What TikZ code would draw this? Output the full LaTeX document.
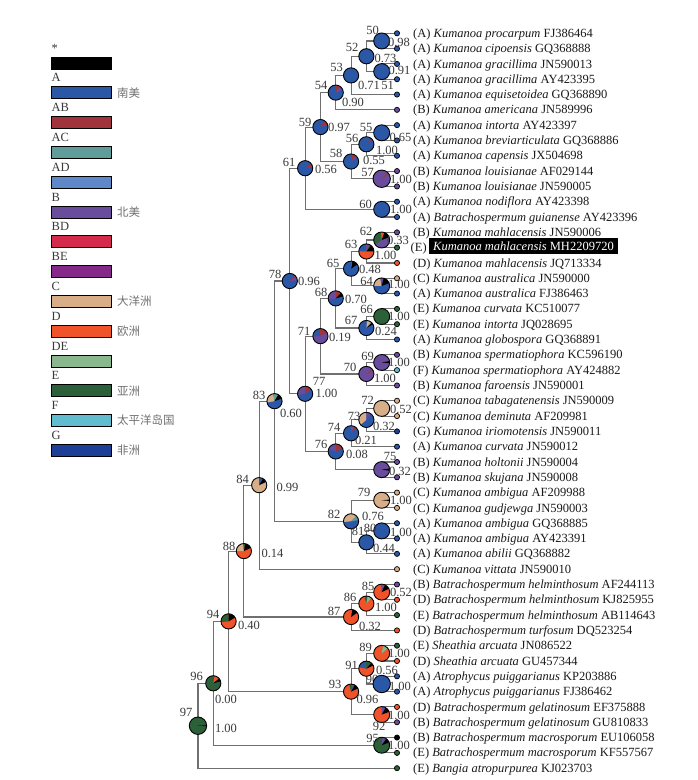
\documentclass[tikz,border=0pt]{standalone}
\usepackage{fontspec}
\setmainfont{Liberation Serif}
\newfontfamily\cjk{Noto Sans CJK SC}
\usetikzlibrary{calc}
\definecolor{cS}{HTML}{000000}
\definecolor{cA}{HTML}{2B57A7}
\definecolor{cAB}{HTML}{A0343A}
\definecolor{cAC}{HTML}{5F9C9A}
\definecolor{cAD}{HTML}{5F88C8}
\definecolor{cB}{HTML}{6A4C9C}
\definecolor{cBD}{HTML}{D42A4C}
\definecolor{cBE}{HTML}{86288A}
\definecolor{cC}{HTML}{D8AE88}
\definecolor{cD}{HTML}{F0522A}
\definecolor{cDE}{HTML}{8AB88E}
\definecolor{cE}{HTML}{2C6038}
\definecolor{cF}{HTML}{62BCD0}
\definecolor{cG}{HTML}{1E3F98}
\definecolor{brgray}{HTML}{707070}
\definecolor{txt}{HTML}{1A1A1A}
\definecolor{nodetxt}{HTML}{3A3A3A}
\definecolor{cjkgray}{HTML}{707070}
\newcommand\pr{7.5pt}
\newcommand\pbase[2]{\fill[#2] (#1) circle[radius=\pr];}
\newcommand\pw[4]{\fill[#4] (#1) -- ++(#2:\pr) arc[start angle=#2, end angle=#3, radius=\pr] -- cycle;}
\newcommand\pout[1]{\draw[pieline] (#1) circle[radius=\pr];}
\newcommand\setr[1]{\renewcommand\pr{#1}}
\begin{document}
\begin{tikzpicture}[x=1pt,y=-1pt, font=\fontsize{12.5}{15}\selectfont,
  branch/.style={draw=brgray, line width=1.1pt},
  tipdot/.style={draw=black, line width=0.7pt},
  pieline/.style={draw=black, line width=0.9pt},
  tiplab/.style={anchor=base west, inner sep=0pt, text=txt},
  nlab/.style={anchor=base, inner sep=0pt, text=nodetxt},
  leglab/.style={anchor=base west, inner sep=0pt, text=nodetxt},
  cjklab/.style={anchor=west, inner sep=0pt, text=cjkgray, font=\cjk\fontsize{11.5}{12}\selectfont},
  legbar/.style={draw=black, line width=1pt}]
\fill[white] (0,0) rectangle (697,780);
\useasboundingbox (0,0) rectangle (697,780);

% ---------- legend ----------
\foreach \k/\lab/\col/\zh in {0/*/cS/,1/A/cA/南美,2/AB/cAB/,3/AC/cAC/,4/AD/cAD/,5/B/cB/北美,6/BD/cBD/,7/BE/cBE/,8/C/cC/大洋洲,9/D/cD/欧洲,10/DE/cDE/,11/E/cE/亚洲,12/F/cF/太平洋岛国,13/G/cG/非洲}{
  \pgfmathsetmacro\bt{57+29.8*\k}
  \node[leglab] (lg\k) at (51.5,{\bt-5}) {\lab};
  \filldraw[legbar, fill=\col] (51,\bt) rectangle (111,{\bt+12});
  \node[cjklab] (zh\k) at (117,{\bt+6}) {\zh};
}

% ---------- tips ----------
\foreach \i in {0,...,48}{\coordinate (t\i) at (397,{33.3+15.31*\i});}

% ---------- internal nodes ----------
\coordinate (n50) at (381.69,40.955);
\coordinate (n51) at (381.69,71.575);
\coordinate (n52) at (366.38,56.265);
\coordinate (n53) at (351.07,75.40);
\coordinate (n54) at (335.76,92.63);
\coordinate (n55) at (381.69,132.815);
\coordinate (n56) at (366.38,144.30);
\coordinate (n57) at (381.69,178.745);
\coordinate (n58) at (351.07,161.52);
\coordinate (n59) at (320.45,127.07);
\coordinate (n60) at (381.69,209.365);
\coordinate (n61) at (305.14,168.22);
\coordinate (n62) at (381.69,239.985);
\coordinate (n63) at (366.38,251.47);
\coordinate (n64) at (381.69,285.915);
\coordinate (n65) at (351.07,268.69);
\coordinate (n66) at (381.69,316.535);
\coordinate (n67) at (366.38,328.02);
\coordinate (n68) at (335.76,298.355);
\coordinate (n69) at (381.69,362.465);
\coordinate (n70) at (366.38,373.95);
\coordinate (n71) at (320.45,336.15);
\coordinate (n72) at (381.69,408.395);
\coordinate (n73) at (366.38,419.88);
\coordinate (n74) at (351.07,433.275);
\coordinate (n75) at (381.69,469.635);
\coordinate (n76) at (335.76,451.455);
\coordinate (n77) at (305.14,393.80);
\coordinate (n78) at (289.83,281.01);
\coordinate (n79) at (381.69,500.255);
\coordinate (n80) at (381.69,530.875);
\coordinate (n81) at (366.38,542.36);
\coordinate (n82) at (351.07,521.31);
\coordinate (n83) at (274.52,401.16);
\coordinate (n84) at (259.21,485.155);
\coordinate (n85) at (381.69,592.115);
\coordinate (n86) at (366.38,603.60);
\coordinate (n87) at (351.07,617.00);
\coordinate (n88) at (243.90,551.08);
\coordinate (n89) at (381.69,653.355);
\coordinate (n90) at (381.69,683.975);
\coordinate (n91) at (366.38,668.665);
\coordinate (n92) at (381.69,714.595);
\coordinate (n93) at (351.07,691.63);
\coordinate (n94) at (228.59,621.355);
\coordinate (n95) at (381.69,745.215);
\coordinate (n96) at (213.28,683.285);
\coordinate (n97) at (197.97,725.73);

% ---------- branches ----------
\foreach \p/\a/\b in {n50/t0/t1,n51/t2/t3,n52/n50/n51,n53/n52/t4,n54/n53/t5,n55/t6/t7,n56/n55/t8,n57/t9/t10,n58/n56/n57,n59/n54/n58,n60/t11/t12,n61/n59/n60,n62/t13/t14,n63/n62/t15,n64/t16/t17,n65/n63/n64,n66/t18/t19,n67/n66/t20,n68/n65/n67,n69/t21/t22,n70/n69/t23,n71/n68/n70,n72/t24/t25,n73/n72/t26,n74/n73/t27,n75/t28/t29,n76/n74/n75,n77/n71/n76,n78/n61/n77,n79/t30/t31,n80/t32/t33,n81/n80/t34,n82/n79/n81,n83/n78/n82,n84/n83/t35,n85/t36/t37,n86/n85/t38,n87/n86/t39,n88/n84/n87,n89/t40/t41,n90/t42/t43,n91/n89/n90,n92/t44/t45,n93/n91/n92,n94/n88/n93,n95/t46/t47,n96/n94/n95,n97/n96/t48}{
  \draw[branch] (\a) -| (\p) |- (\b);
}

% ---------- tip dots and labels ----------
\foreach \i/\r/\sp/\acc/\c in {0/A/Kumanoa procarpum/FJ386464/cA,1/A/Kumanoa cipoensis/GQ368888/cA,2/A/Kumanoa gracillima/JN590013/cA,3/A/Kumanoa gracillima/AY423395/cA,4/A/Kumanoa equisetoidea/GQ368890/cA,5/B/Kumanoa americana/JN589996/cB,6/A/Kumanoa intorta/AY423397/cA,7/A/Kumanoa breviarticulata/GQ368886/cA,8/A/Kumanoa capensis/JX504698/cA,9/B/Kumanoa louisianae/AF029144/cB,10/B/Kumanoa louisianae/JN590005/cB,11/A/Kumanoa nodiflora/AY423398/cA,12/A/Batrachospermum guianense/AY423396/cA,13/B/Kumanoa mahlacensis/JN590006/cB,15/D/Kumanoa mahlacensis/JQ713334/cD,16/C/Kumanoa australica/JN590000/cC,17/A/Kumanoa australica/FJ386463/cA,18/E/Kumanoa curvata/KC510077/cE,19/E/Kumanoa intorta/JQ028695/cE,20/A/Kumanoa globospora/GQ368891/cA,21/B/Kumanoa spermatiophora/KC596190/cB,22/F/Kumanoa spermatiophora/AY424882/cF,23/B/Kumanoa faroensis/JN590001/cB,24/C/Kumanoa tabagatenensis/JN590009/cC,25/C/Kumanoa deminuta/AF209981/cC,26/G/Kumanoa iriomotensis/JN590011/cG,27/A/Kumanoa curvata/JN590012/cA,28/B/Kumanoa holtonii/JN590004/cB,29/B/Kumanoa skujana/JN590008/cB,30/C/Kumanoa ambigua/AF209988/cC,31/C/Kumanoa gudjewga/JN590003/cC,32/A/Kumanoa ambigua/GQ368885/cA,33/A/Kumanoa ambigua/AY423391/cA,34/A/Kumanoa abilii/GQ368882/cA,35/C/Kumanoa vittata/JN590010/cC,36/B/Batrachospermum helminthosum/AF244113/cB,37/D/Batrachospermum helminthosum/KJ825955/cD,38/E/Batrachospermum helminthosum/AB114643/cE,39/D/Batrachospermum turfosum/DQ523254/cD,40/E/Sheathia arcuata/JN086522/cE,41/D/Sheathia arcuata/GU457344/cD,42/A/Atrophycus puiggarianus/KP203886/cA,43/A/Atrophycus puiggarianus/FJ386462/cA,44/D/Batrachospermum gelatinosum/EF375888/cD,45/B/Batrachospermum gelatinosum/GU810833/cB,46/B/Batrachospermum macrosporum/EU106058/cS,47/E/Batrachospermum macrosporum/KF557567/cE,48/E/Bangia atropurpurea/KJ023703/cE}{
  \filldraw[tipdot, fill=\c] (t\i) circle[radius=2.6pt];
  \node[tiplab] (l\i) at ($(t\i)+(16,4.1)$) {(\r) \textit{\sp} \acc};
}
\filldraw[tipdot, fill=cE] (t14) circle[radius=2.6pt];
\node[tiplab] (l14a) at (410.5,251.5) {(E)};
\node[anchor=base west, fill=black, text=white, inner xsep=4pt, inner ysep=0pt, text height=12.8pt, text depth=3pt] (l14) at (429,250.5) {\textit{Kumanoa mahlacensis} MH2209720};

% label partly under pie 90
\node[nlab] (N90) at (372,{679+4.2}) {90};

% ---------- pies (cherries slightly larger) ----------
\setr{8pt}
\pbase{n50}{cA}\pout{n50}
\pbase{n51}{cA}\pout{n51}
\pbase{n55}{cA}\pout{n55}
\pbase{n60}{cA}\pout{n60}
\pbase{n62}{cB}\pw{n62}{95}{215}{cE}\pw{n62}{70}{95}{cD}\pw{n62}{20}{70}{cS}\pout{n62}
\pbase{n64}{cA}\pw{n64}{100}{180}{cC}\pw{n64}{80}{100}{cB}\pw{n64}{20}{75}{cS}\pout{n64}
\pbase{n66}{cE}\pout{n66}
\pbase{n69}{cB}\pw{n69}{-5}{10}{cS}\pout{n69}
\pbase{n72}{cC}\pout{n72}
\pbase{n75}{cB}\pw{n75}{-8}{8}{cS}\pout{n75}
\pbase{n79}{cC}\pw{n79}{-5}{5}{cS}\pout{n79}
\pbase{n80}{cA}\pout{n80}
\pbase{n85}{cD}\pw{n85}{65}{95}{cB}\pw{n85}{25}{65}{cS}\pout{n85}
\pbase{n89}{cD}\pw{n89}{40}{80}{cDE}\pout{n89}
\pbase{n92}{cD}\pw{n92}{60}{90}{cB}\pw{n92}{20}{60}{cS}\pout{n92}
\pbase{n95}{cE}\pw{n95}{55}{85}{cB}\pw{n95}{20}{55}{cS}\pout{n95}
\setr{8.7pt}
\pbase{n57}{cB}\pw{n57}{38}{45}{cAB}\pout{n57}
\pbase{n90}{cA}\pout{n90}
\pbase{n97}{cE}\pw{n97}{-3}{3}{cS}\pout{n97}
\setr{7.6pt}
\pbase{n52}{cA}\pout{n52}
\pbase{n53}{cA}\pout{n53}
\pbase{n54}{cA}\pw{n54}{55}{90}{cAB}\pw{n54}{25}{55}{cB}\pout{n54}
\pbase{n56}{cA}\pw{n56}{40}{45}{cAB}\pout{n56}
\pbase{n58}{cA}\pw{n58}{50}{90}{cAB}\pw{n58}{35}{50}{cB}\pout{n58}
\pbase{n59}{cA}\pw{n59}{20}{60}{cAB}\pout{n59}
\pbase{n61}{cA}\pw{n61}{5}{40}{cAB}\pout{n61}
\pbase{n63}{cD}\pw{n63}{95}{180}{cA}\pw{n63}{65}{95}{cB}\pw{n63}{52}{65}{cE}\pw{n63}{0}{52}{cS}\pout{n63}
\pbase{n65}{cA}\pw{n65}{35}{80}{cS}\pw{n65}{80}{90}{cB}\pout{n65}
\pbase{n67}{cA}\pw{n67}{55}{85}{cC}\pw{n67}{45}{55}{cDE}\pw{n67}{30}{45}{cS}\pout{n67}
\pbase{n68}{cA}\pw{n68}{90}{190}{cB}\pw{n68}{45}{90}{cAB}\pw{n68}{15}{45}{cS}\pout{n68}
\pbase{n70}{cB}\pw{n70}{20}{35}{cAB}\pout{n70}
\pbase{n71}{cB}\pw{n71}{95}{180}{cA}\pw{n71}{30}{95}{cAB}\pout{n71}
\pbase{n73}{cA}\pw{n73}{90}{220}{cC}\pw{n73}{55}{90}{cB}\pout{n73}
\pbase{n74}{cA}\pw{n74}{65}{90}{cB}\pw{n74}{45}{65}{cAB}\pout{n74}
\pbase{n76}{cA}\pw{n76}{90}{160}{cB}\pw{n76}{25}{90}{cAB}\pout{n76}
\pbase{n77}{cA}\pw{n77}{90}{190}{cB}\pw{n77}{40}{90}{cAB}\pout{n77}
\pbase{n78}{cA}\pw{n78}{5}{40}{cB}\pw{n78}{40}{50}{cAB}\pout{n78}
\pbase{n81}{cA}\pout{n81}
\pbase{n82}{cA}\pw{n82}{45}{185}{cC}\pw{n82}{10}{45}{cAC}\pout{n82}
\pbase{n83}{cA}\pw{n83}{100}{190}{cC}\pw{n83}{60}{100}{cAC}\pw{n83}{20}{60}{cS}\pout{n83}
\pbase{n84}{cC}\pw{n84}{60}{90}{cA}\pw{n84}{25}{60}{cS}\pout{n84}
\pbase{n86}{cD}\pw{n86}{80}{105}{cE}\pw{n86}{50}{80}{cDE}\pout{n86}
\pbase{n87}{cD}\pw{n87}{35}{80}{cS}\pout{n87}
\pbase{n88}{cD}\pw{n88}{95}{180}{cC}\pw{n88}{80}{95}{cE}\pw{n88}{25}{80}{cS}\pout{n88}
\pbase{n91}{cD}\pw{n91}{95}{170}{cA}\pw{n91}{50}{95}{cE}\pw{n91}{25}{50}{cS}\pout{n91}
\pbase{n93}{cD}\pw{n93}{75}{105}{cE}\pw{n93}{60}{75}{cA}\pw{n93}{25}{60}{cS}\pout{n93}
\pbase{n94}{cD}\pw{n94}{90}{185}{cE}\pw{n94}{30}{90}{cS}\pout{n94}
\pbase{n96}{cE}\pw{n96}{40}{80}{cD}\pw{n96}{15}{40}{cS}\pout{n96}

% ---------- node labels ----------
\foreach \nm/\nx/\ny/\vx/\vy/\v in {50/372.5/30.5/399/42/0.98,51/387.5/85/399.5/70.5/0.91,52/352/47.5/385.5/58/0.73,53/336.5/67.5/369/85/0.71,54/321/85/353/102/0.90,55/366/127.5/400.5/137/0.65,56/352/138.5/387/150/1.00,57/367.5/172.5/401/179/1.00,58/336/153.5/374/160.5/0.55,59/305/122.5/339/127.5/0.97,60/365.5/204/401/209.5/1.00,61/289/162.5/326/169.5/0.56,62/366/231.5/398/240/0.33,63/351/244.5/385.5/255/1.00,64/366.5/281.5/399/284.5/1.00,65/333/263/370/269.5/0.48,66/366.5/309.5/399/316/1.00,67/351/320.5/386/331/0.24,68/321/292.5/356/299/0.70,69/367.5/356/399/362.5/1.00,70/350/367.5/385/378.5/1.00,71/304/331/340/337.5/0.19,72/367.5/400.5/401/409.5/0.52,73/354/416/384/426/0.32,74/334/427.5/366/440/0.21,75/390/456/400/471/0.32,76/321/444/357/454.5/0.08,77/319/381/326.5/393/1.00,78/275/274/309/281/0.96,79/364/492.5/401/500.5/1.00,80/370/528.5/401/532.5/1.00,81/358/531/384/548.5/0.44,82/334/514.5/373/516.5/0.76,83/259/395/291/413/0.60,84/242.5/479/287.5/487/0.99,85/368/586.5/401/592.5/0.52,86/350/597/386/607.5/1.00,87/334/611.5/370/626/0.32,88/229/546/272.5/553/0.14,89/365.5/647.5/399/653.5/1.00,91/351.5/665.5/387/670.5/0.56,92/379/726/399/715.5/1.00,93/335/684.5/367.5/699/0.96,94/213/614/249/625/0.40,95/372.5/738/399/745.5/1.00,96/196.5/676/226/699/0.00,97/186/712.5/226/728/1.00}{
  \node[nlab] (N\nm) at (\nx,{\ny+4.2}) {\nm};
  \node[nlab] (V\nm) at (\vx,{\vy+4.2}) {\v};
}
\node[nlab] (V90) at (400,{686+4.2}) {1.00};
\end{tikzpicture}
\end{document}
